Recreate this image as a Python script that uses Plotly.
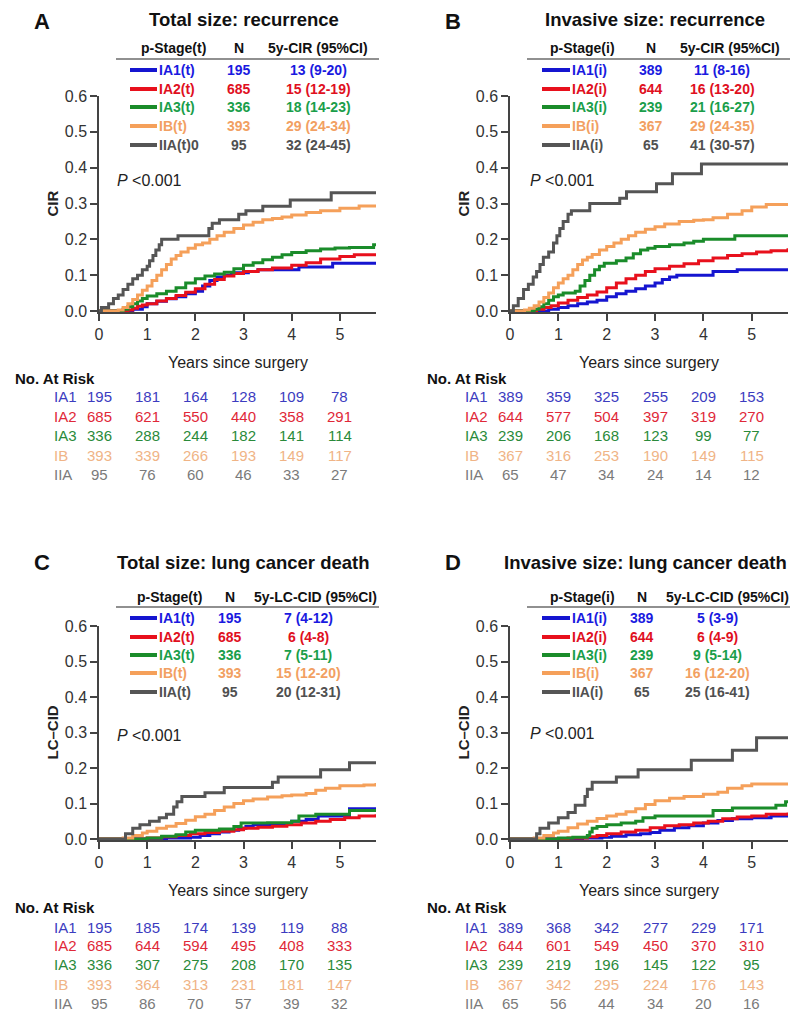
import plotly.graph_objects as go

# The page body adds an 8px margin; the figure is sized so that the window
# coordinates (800x1016) line up with the reference picture.
OFF = 8
W, H = 800 - OFF, 1016 - OFF
FONT = "Arial, Liberation Sans, sans-serif"

# ---------------- data ----------------
years = [0, 1, 2, 3, 4, 5]
risk_stages = ["IA1", "IA2", "IA3", "IB", "IIA"]

colors_line = ["#1515d0", "#e8101c", "#1a8c2a", "#f5a05a", "#555555"]
colors_leg = ["#1a1ae0", "#e0101e", "#1a9e4a", "#f2a062", "#505050"]
colors_risk = ["#3c3cc0", "#e02838", "#2a8a3a", "#f0b486", "#7a7a7a"]

# Panel A: total size, recurrence
legA_lab = ["IA1(t)", "IA2(t)", "IA3(t)", "IB(t)", "IIA(t)0"]
legA_n = [195, 685, 336, 393, 95]
legA_ci = ["13 (9-20)", "15 (12-19)", "18 (14-23)", "29 (24-34)", "32 (24-45)"]
riskA_IA1 = [195, 181, 164, 128, 109, 78]
riskA_IA2 = [685, 621, 550, 440, 358, 291]
riskA_IA3 = [336, 288, 244, 182, 141, 114]
riskA_IB = [393, 339, 266, 193, 149, 117]
riskA_IIA = [95, 76, 60, 46, 33, 27]
A_IA1_t = [0, 0.7, 0.9, 1.0, 1.2, 1.4, 1.6, 1.8, 2.0, 2.15, 2.3, 2.45, 2.6, 2.75, 3.1, 3.3, 4.15, 4.85, 5.75]
A_IA1_y = [0, 0.005, 0.012, 0.02, 0.027, 0.034, 0.04, 0.048, 0.055, 0.07, 0.085, 0.095, 0.1, 0.107, 0.11, 0.115, 0.123, 0.133, 0.133]
A_IA2_t = [0, 0.6, 0.7, 0.8, 0.9, 1.0, 1.2, 1.4, 1.6, 1.8, 2.0, 2.2, 2.4, 2.6, 2.8, 3.0, 3.3, 3.6, 4.0, 4.3, 4.6, 5.0, 5.3, 5.75]
A_IA2_y = [0, 0.003, 0.008, 0.013, 0.017, 0.02, 0.028, 0.035, 0.043, 0.052, 0.062, 0.075, 0.088, 0.098, 0.105, 0.11, 0.115, 0.12, 0.128, 0.135, 0.145, 0.152, 0.157, 0.16]
A_IA3_t = [0, 0.5, 0.6, 0.7, 0.8, 0.9, 1.0, 1.2, 1.4, 1.6, 1.8, 2.0, 2.2, 2.4, 2.6, 2.8, 3.0, 3.2, 3.4, 3.6, 3.8, 4.0, 4.3, 4.6, 4.9, 5.2, 5.7, 5.75]
A_IA3_y = [0, 0.005, 0.012, 0.02, 0.028, 0.035, 0.042, 0.048, 0.055, 0.065, 0.078, 0.09, 0.098, 0.103, 0.108, 0.118, 0.128, 0.135, 0.143, 0.15, 0.157, 0.163, 0.168, 0.173, 0.176, 0.177, 0.185, 0.185]
A_IB_t = [0, 0.4, 0.5, 0.6, 0.7, 0.8, 0.9, 1.0, 1.1, 1.2, 1.3, 1.4, 1.5, 1.6, 1.7, 1.85, 2.0, 2.15, 2.3, 2.45, 2.6, 2.8, 3.0, 3.2, 3.4, 3.6, 3.8, 4.0, 4.3, 4.6, 5.0, 5.4, 5.75]
A_IB_y = [0, 0.003, 0.01, 0.02, 0.032, 0.045, 0.058, 0.07, 0.085, 0.1, 0.115, 0.13, 0.145, 0.155, 0.165, 0.175, 0.185, 0.19, 0.2, 0.21, 0.22, 0.23, 0.24, 0.248, 0.255, 0.258, 0.262, 0.268, 0.275, 0.28, 0.287, 0.293, 0.295]
A_IIA_t = [0, 0.05, 0.2, 0.3, 0.4, 0.5, 0.6, 0.7, 0.8, 0.9, 1.0, 1.05, 1.12, 1.18, 1.25, 1.3, 1.64, 2.28, 2.35, 2.5, 2.9, 3.05, 3.4, 3.97, 4.82, 5.75]
A_IIA_y = [0, 0.01, 0.02, 0.035, 0.045, 0.06, 0.075, 0.09, 0.1, 0.115, 0.125, 0.14, 0.155, 0.17, 0.185, 0.2, 0.21, 0.23, 0.245, 0.255, 0.27, 0.28, 0.292, 0.31, 0.33, 0.33]

# Panel B: invasive size, recurrence
legB_lab = ["IA1(i)", "IA2(i)", "IA3(i)", "IB(i)", "IIA(i)"]
legB_n = [389, 644, 239, 367, 65]
legB_ci = ["11 (8-16)", "16 (13-20)", "21 (16-27)", "29 (24-35)", "41 (30-57)"]
riskB_IA1 = [389, 359, 325, 255, 209, 153]
riskB_IA2 = [644, 577, 504, 397, 319, 270]
riskB_IA3 = [239, 206, 168, 123, 99, 77]
riskB_IB = [367, 316, 253, 190, 149, 115]
riskB_IIA = [65, 47, 34, 24, 14, 12]
B_IA1_t = [0, 0.8, 1.0, 1.2, 1.4, 1.6, 1.8, 2.0, 2.2, 2.4, 2.6, 2.8, 3.0, 3.15, 3.3, 3.45, 4.1, 4.2, 4.7, 5.75]
B_IA1_y = [0, 0.005, 0.01, 0.015, 0.02, 0.025, 0.03, 0.04, 0.048, 0.055, 0.062, 0.07, 0.078, 0.088, 0.095, 0.1, 0.1, 0.11, 0.115, 0.115]
B_IA2_t = [0, 0.55, 0.7, 0.85, 1.0, 1.2, 1.4, 1.6, 1.8, 2.0, 2.2, 2.4, 2.6, 2.8, 3.0, 3.3, 3.6, 3.9, 4.2, 4.5, 4.8, 5.1, 5.4, 5.75]
B_IA2_y = [0, 0.005, 0.01, 0.015, 0.022, 0.03, 0.038, 0.045, 0.053, 0.065, 0.078, 0.09, 0.1, 0.11, 0.118, 0.125, 0.132, 0.14, 0.148, 0.155, 0.16, 0.165, 0.168, 0.175]
B_IA3_t = [0, 0.5, 0.6, 0.7, 0.8, 0.9, 1.0, 1.1, 1.35, 1.45, 1.55, 1.65, 1.75, 1.85, 1.95, 2.2, 2.4, 2.55, 2.7, 2.85, 3.0, 3.3, 3.6, 3.8, 4.0, 4.6, 4.65, 5.75]
B_IA3_y = [0, 0.005, 0.012, 0.02, 0.03, 0.04, 0.045, 0.05, 0.055, 0.07, 0.085, 0.1, 0.115, 0.125, 0.133, 0.14, 0.148, 0.16, 0.17, 0.175, 0.18, 0.185, 0.19, 0.195, 0.2, 0.2, 0.21, 0.21]
B_IB_t = [0, 0.3, 0.4, 0.5, 0.6, 0.7, 0.8, 0.9, 1.0, 1.1, 1.2, 1.3, 1.4, 1.5, 1.6, 1.7, 1.85, 2.0, 2.15, 2.3, 2.45, 2.6, 2.8, 3.0, 3.2, 3.5, 3.8, 4.0, 4.2, 4.5, 4.8, 5.0, 5.3, 5.75]
B_IB_y = [0, 0.003, 0.008, 0.015, 0.025, 0.038, 0.05, 0.065, 0.078, 0.09, 0.1, 0.115, 0.13, 0.142, 0.15, 0.158, 0.17, 0.18, 0.19, 0.2, 0.21, 0.22, 0.228, 0.235, 0.243, 0.25, 0.253, 0.255, 0.26, 0.27, 0.28, 0.29, 0.297, 0.298]
B_IIA_t = [0, 0.07, 0.17, 0.28, 0.38, 0.48, 0.55, 0.62, 0.69, 0.8, 0.9, 0.97, 1.03, 1.1, 1.2, 1.27, 1.65, 2.27, 2.41, 3.03, 3.36, 3.96, 5.75]
B_IIA_y = [0, 0.015, 0.035, 0.06, 0.075, 0.095, 0.11, 0.13, 0.15, 0.165, 0.19, 0.21, 0.23, 0.25, 0.27, 0.28, 0.3, 0.315, 0.333, 0.355, 0.383, 0.41, 0.41]

# Panel C: total size, lung cancer death
legC_lab = ["IA1(t)", "IA2(t)", "IA3(t)", "IB(t)", "IIA(t)"]
legC_n = [195, 685, 336, 393, 95]
legC_ci = ["7 (4-12)", "6 (4-8)", "7 (5-11)", "15 (12-20)", "20 (12-31)"]
riskC_IA1 = [195, 185, 174, 139, 119, 88]
riskC_IA2 = [685, 644, 594, 495, 408, 333]
riskC_IA3 = [336, 307, 275, 208, 170, 135]
riskC_IB = [393, 364, 313, 231, 181, 147]
riskC_IIA = [95, 86, 70, 57, 39, 32]
C_IA1_t = [0, 1.4, 1.9, 2.1, 2.3, 2.5, 2.7, 2.9, 3.05, 3.2, 3.6, 4.0, 4.3, 4.55, 5.2, 5.75]
C_IA1_y = [0, 0.003, 0.005, 0.01, 0.015, 0.02, 0.025, 0.03, 0.035, 0.04, 0.043, 0.05, 0.055, 0.065, 0.085, 0.085]
C_IA2_t = [0, 1.0, 1.3, 1.6, 1.9, 2.2, 2.5, 2.8, 3.0, 3.3, 3.6, 3.9, 4.2, 4.5, 4.8, 5.1, 5.4, 5.75]
C_IA2_y = [0, 0.003, 0.006, 0.01, 0.015, 0.018, 0.022, 0.026, 0.03, 0.033, 0.036, 0.04, 0.045, 0.05, 0.055, 0.06, 0.065, 0.07]
C_IA3_t = [0, 1.0, 1.3, 1.6, 1.8, 2.0, 2.5, 2.8, 2.95, 3.5, 4.0, 4.15, 4.5, 5.2, 5.75]
C_IA3_y = [0, 0.003, 0.008, 0.012, 0.02, 0.025, 0.028, 0.035, 0.045, 0.046, 0.05, 0.065, 0.07, 0.08, 0.08]
C_IB_t = [0, 0.5, 0.7, 0.9, 1.0, 1.2, 1.4, 1.6, 1.8, 2.0, 2.2, 2.4, 2.6, 2.8, 3.0, 3.2, 3.5, 3.8, 4.0, 4.3, 4.5, 4.7, 5.0, 5.5, 5.75]
C_IB_y = [0, 0.003, 0.01, 0.017, 0.022, 0.03, 0.036, 0.044, 0.053, 0.063, 0.07, 0.08, 0.09, 0.1, 0.108, 0.113, 0.118, 0.122, 0.124, 0.128, 0.137, 0.143, 0.15, 0.152, 0.158]
C_IIA_t = [0, 0.55, 0.7, 0.85, 1.05, 1.25, 1.4, 1.55, 1.62, 1.72, 2.2, 2.6, 3.6, 3.72, 4.6, 5.2, 5.75]
C_IIA_y = [0, 0.015, 0.03, 0.04, 0.05, 0.06, 0.07, 0.09, 0.105, 0.12, 0.13, 0.145, 0.16, 0.175, 0.195, 0.215, 0.215]

# Panel D: invasive size, lung cancer death
legD_lab = ["IA1(i)", "IA2(i)", "IA3(i)", "IB(i)", "IIA(i)"]
legD_n = [389, 644, 239, 367, 65]
legD_ci = ["5 (3-9)", "6 (4-9)", "9 (5-14)", "16 (12-20)", "25 (16-41)"]
riskD_IA1 = [389, 368, 342, 277, 229, 171]
riskD_IA2 = [644, 601, 549, 450, 370, 310]
riskD_IA3 = [239, 219, 196, 145, 122, 95]
riskD_IB = [367, 342, 295, 224, 176, 143]
riskD_IIA = [65, 56, 44, 34, 20, 16]
D_IA1_t = [0, 1.5, 1.9, 2.1, 2.4, 2.7, 2.9, 3.1, 3.4, 3.7, 4.0, 4.3, 4.6, 5.0, 5.4, 5.75]
D_IA1_y = [0, 0.003, 0.005, 0.008, 0.012, 0.015, 0.018, 0.025, 0.032, 0.037, 0.045, 0.052, 0.057, 0.06, 0.065, 0.07]
D_IA2_t = [0, 1.2, 1.6, 1.8, 2.0, 2.3, 2.6, 2.9, 3.2, 3.5, 3.8, 4.1, 4.4, 4.7, 5.0, 5.3, 5.75]
D_IA2_y = [0, 0.003, 0.006, 0.01, 0.015, 0.02, 0.025, 0.032, 0.037, 0.04, 0.045, 0.05, 0.057, 0.062, 0.065, 0.07, 0.075]
D_IA3_t = [0, 1.0, 1.3, 1.6, 1.65, 1.7, 1.8, 2.0, 2.3, 2.6, 2.75, 3.0, 4.1, 4.2, 4.6, 5.5, 5.7, 5.75]
D_IA3_y = [0, 0.003, 0.005, 0.01, 0.02, 0.03, 0.035, 0.04, 0.045, 0.05, 0.06, 0.065, 0.065, 0.08, 0.087, 0.095, 0.105, 0.105]
D_IB_t = [0, 0.5, 0.7, 0.9, 1.0, 1.2, 1.4, 1.6, 1.8, 2.0, 2.2, 2.4, 2.6, 2.8, 3.0, 3.3, 3.6, 4.0, 4.3, 4.5, 4.8, 5.0, 5.75]
D_IB_y = [0, 0.003, 0.01, 0.017, 0.022, 0.032, 0.042, 0.05, 0.058, 0.065, 0.07, 0.077, 0.085, 0.097, 0.108, 0.115, 0.12, 0.126, 0.132, 0.143, 0.15, 0.155, 0.155]
D_IIA_t = [0, 0.55, 0.62, 0.8, 1.0, 1.2, 1.35, 1.55, 1.6, 1.7, 2.2, 2.65, 3.75, 4.6, 5.1, 5.75]
D_IIA_y = [0, 0.015, 0.03, 0.045, 0.06, 0.075, 0.095, 0.12, 0.14, 0.16, 0.175, 0.195, 0.222, 0.25, 0.285, 0.285]

# ---------------- layout helpers ----------------
def px(x):
    return (x - OFF) / W

def py(y):
    return 1 - (y - OFF) / H

panels = [
    dict(letter="A", title="Total size: recurrence", ytitle="CIR", stagehdr="p-Stage(t)", cihdr="5y-CIR (95%CI)",
         labs=legA_lab, ns=legA_n, cis=legA_ci,
         risk=[riskA_IA1, riskA_IA2, riskA_IA3, riskA_IB, riskA_IIA],
         curves=[(A_IA1_t, A_IA1_y), (A_IA2_t, A_IA2_y), (A_IA3_t, A_IA3_y), (A_IB_t, A_IB_y), (A_IIA_t, A_IIA_y)],
         x0=99, x1=376, y0=311, y6=96, ty=15, top=True, tx=244, lx=42, hy=48, rule=59, rows=[70, 89, 107, 126, 145],
         hs=173, hn=239, hc=318, vn=239, vc=318, lsx=(130, 157), ptx=115, pty=180,
         xty=362, ray=378, rrows=[397, 416, 435, 455, 474], rax=13, rlx=52),
    dict(letter="B", title="Invasive size: recurrence", ytitle="CIR", stagehdr="p-Stage(i)", cihdr="5y-CIR (95%CI)",
         labs=legB_lab, ns=legB_n, cis=legB_ci,
         risk=[riskB_IA1, riskB_IA2, riskB_IA3, riskB_IB, riskB_IIA],
         curves=[(B_IA1_t, B_IA1_y), (B_IA2_t, B_IA2_y), (B_IA3_t, B_IA3_y), (B_IB_t, B_IB_y), (B_IIA_t, B_IIA_y)],
         x0=510, x1=788, y0=311, y6=96, ty=15, top=True, tx=655, lx=453, hy=48, rule=59, rows=[70, 89, 107, 126, 145],
         hs=582, hn=651, hc=730, vn=651, vc=722, lsx=(542, 570), ptx=528, pty=180,
         xty=362, ray=378, rrows=[397, 416, 435, 455, 474], rax=425, rlx=463),
    dict(letter="C", title="Total size: lung cancer death", ytitle="LC\u2013CID", stagehdr="p-Stage(t)", cihdr="5y-LC-CID (95%CI)",
         labs=legC_lab, ns=legC_n, cis=legC_ci,
         risk=[riskC_IA1, riskC_IA2, riskC_IA3, riskC_IB, riskC_IIA],
         curves=[(C_IA1_t, C_IA1_y), (C_IA2_t, C_IA2_y), (C_IA3_t, C_IA3_y), (C_IB_t, C_IB_y), (C_IIA_t, C_IIA_y)],
         x0=99, x1=376, y0=839, y6=626, ty=562, top=False, tx=244, lx=42, hy=597, rule=607, rows=[618, 637, 655, 673, 692],
         hs=169, hn=230, hc=315, vn=230, vc=308, lsx=(130, 157), ptx=115, pty=735,
         xty=890, ray=907, rrows=[927, 945, 964, 984, 1003], rax=13, rlx=52),
    dict(letter="D", title="Invasive size: lung cancer death", ytitle="LC\u2013CID", stagehdr="p-Stage(i)", cihdr="5y-LC-CID (95%CI)",
         labs=legD_lab, ns=legD_n, cis=legD_ci,
         risk=[riskD_IA1, riskD_IA2, riskD_IA3, riskD_IB, riskD_IIA],
         curves=[(D_IA1_t, D_IA1_y), (D_IA2_t, D_IA2_y), (D_IA3_t, D_IA3_y), (D_IB_t, D_IB_y), (D_IIA_t, D_IIA_y)],
         x0=510, x1=788, y0=839, y6=626, ty=562, top=False, tx=645, lx=453, hy=597, rule=607, rows=[618, 637, 655, 673, 692],
         hs=582, hn=642, hc=727, vn=642, vc=717, lsx=(542, 570), ptx=528, pty=733,
         xty=890, ray=907, rrows=[927, 945, 964, 984, 1003], rax=425, rlx=463),
]

fig = go.Figure()
annotations = []
shapes = []
layout_axes = {}

XMAX = 5.75
YMIN = -0.003

for i, p in enumerate(panels):
    k = "" if i == 0 else str(i + 1)
    xa, ya = "x" + k, "y" + k
    ppu = (p["y0"] - p["y6"]) / 0.6
    ybot = p["y0"] - YMIN * ppu
    layout_axes["xaxis" + k] = dict(
        domain=[px(p["x0"]), px(p["x1"])], range=[0, XMAX], anchor=ya, automargin=False,
        tickvals=years, ticktext=[str(v) for v in years], ticks="outside", ticklen=7, tickwidth=1.5,
        tickcolor="#444", showline=True, linecolor="#444", linewidth=1.5, showgrid=False, zeroline=False,
        tickfont=dict(family=FONT, size=16, color="#333"))
    layout_axes["yaxis" + k] = dict(
        domain=[py(ybot), py(p["y6"])], range=[YMIN, 0.6], anchor=xa, automargin=False,
        tickvals=[0, 0.1, 0.2, 0.3, 0.4, 0.5, 0.6], tickformat=".1f", ticks="outside", ticklen=7, tickwidth=1.5,
        tickcolor="#444", showline=True, linecolor="#444", linewidth=1.5, showgrid=False, zeroline=False,
        tickfont=dict(family=FONT, size=16, color="#333"))
    for j, (tt, yy) in enumerate(p["curves"]):
        fig.add_trace(go.Scatter(x=tt, y=yy, mode="lines", line=dict(color=colors_line[j], width=3, shape="hv"),
                                 xaxis=xa, yaxis=ya, showlegend=False, hoverinfo="skip"))
    # panel letter & title (top row anchored to the top edge so nothing is clipped)
    if p["top"]:
        ty_val, yanc = py(OFF), "top"
    else:
        ty_val, yanc = py(p["ty"]), "middle"
    annotations.append(dict(text="<b>%s</b>" % p["letter"], x=px(p["lx"]), y=ty_val, xref="paper", yref="paper",
                            showarrow=False, xanchor="center", yanchor=yanc, borderpad=0,
                            font=dict(family=FONT, size=22, color="#111")))
    annotations.append(dict(text="<b>%s</b>" % p["title"], x=px(p["tx"]), y=ty_val, xref="paper", yref="paper",
                            showarrow=False, xanchor="center", yanchor=yanc, borderpad=0,
                            font=dict(family=FONT, size=18.5, color="#111")))
    for txt, cx in [(p["stagehdr"], p["hs"]), ("N", p["hn"]), (p["cihdr"], p["hc"])]:
        annotations.append(dict(text="<b>%s</b>" % txt, x=px(cx), y=py(p["hy"]), xref="paper", yref="paper",
                                showarrow=False, xanchor="center", yanchor="middle", font=dict(family=FONT, size=14, color="#111")))
    shapes.append(dict(type="line", xref="paper", yref="paper", x0=px(p["x0"] + 17), x1=px(p["x0"] + 280),
                       y0=py(p["rule"]), y1=py(p["rule"]), line=dict(color="#222", width=1.2)))
    for j in range(5):
        ry = p["rows"][j]
        shapes.append(dict(type="line", xref="paper", yref="paper", x0=px(p["lsx"][0]), x1=px(p["lsx"][1]),
                           y0=py(ry), y1=py(ry), line=dict(color=colors_line[j], width=4)))
        col = colors_leg[j]
        annotations.append(dict(text="<b>%s</b>" % p["labs"][j], x=px(p["lsx"][1]), y=py(ry), xref="paper", yref="paper",
                                showarrow=False, xanchor="left", yanchor="middle", font=dict(family=FONT, size=14, color=col)))
        annotations.append(dict(text="<b>%d</b>" % p["ns"][j], x=px(p["vn"]), y=py(ry), xref="paper", yref="paper",
                                showarrow=False, xanchor="center", yanchor="middle", font=dict(family=FONT, size=14, color=col)))
        annotations.append(dict(text="<b>%s</b>" % p["cis"][j], x=px(p["vc"]), y=py(ry), xref="paper", yref="paper",
                                showarrow=False, xanchor="center", yanchor="middle", font=dict(family=FONT, size=14, color=col)))
    annotations.append(dict(text="<i>P</i> <0.001", x=px(p["ptx"]), y=py(p["pty"]), xref="paper", yref="paper",
                            showarrow=False, xanchor="left", yanchor="middle", font=dict(family=FONT, size=16, color="#222")))
    annotations.append(dict(text="Years since surgery", x=px((p["x0"] + p["x1"]) / 2), y=py(p["xty"]), xref="paper",
                            yref="paper", showarrow=False, xanchor="center", yanchor="middle",
                            font=dict(family=FONT, size=16, color="#222")))
    annotations.append(dict(text="<b>%s</b>" % p["ytitle"], x=px(p["x0"] - 47), y=py((p["y0"] + p["y6"]) / 2),
                            xref="paper", yref="paper", showarrow=False, textangle=-90, xanchor="center",
                            yanchor="middle", font=dict(family=FONT, size=15, color="#222")))
    annotations.append(dict(text="<b>No. At Risk</b>", x=px(p["rax"]), y=py(p["ray"]), xref="paper", yref="paper",
                            showarrow=False, xanchor="left", yanchor="middle", font=dict(family=FONT, size=15, color="#111")))
    for j in range(5):
        ry = p["rrows"][j]
        annotations.append(dict(text=risk_stages[j], x=px(p["rlx"]), y=py(ry), xref="paper", yref="paper",
                                showarrow=False, xanchor="left", yanchor="middle",
                                font=dict(family=FONT, size=15, color=colors_risk[j])))
        for yr, val in zip(years, p["risk"][j]):
            annotations.append(dict(text=str(val), x=yr, y=py(ry), xref=xa, yref="paper", showarrow=False,
                                    xanchor="center", yanchor="middle",
                                    font=dict(family=FONT, size=15, color=colors_risk[j])))

fig.update_layout(width=W, height=H, margin=dict(l=0, r=0, t=0, b=0, autoexpand=False),
                  paper_bgcolor="white", plot_bgcolor="white",
                  showlegend=False, annotations=annotations, shapes=shapes, **layout_axes)
fig.write_html("out.html")
